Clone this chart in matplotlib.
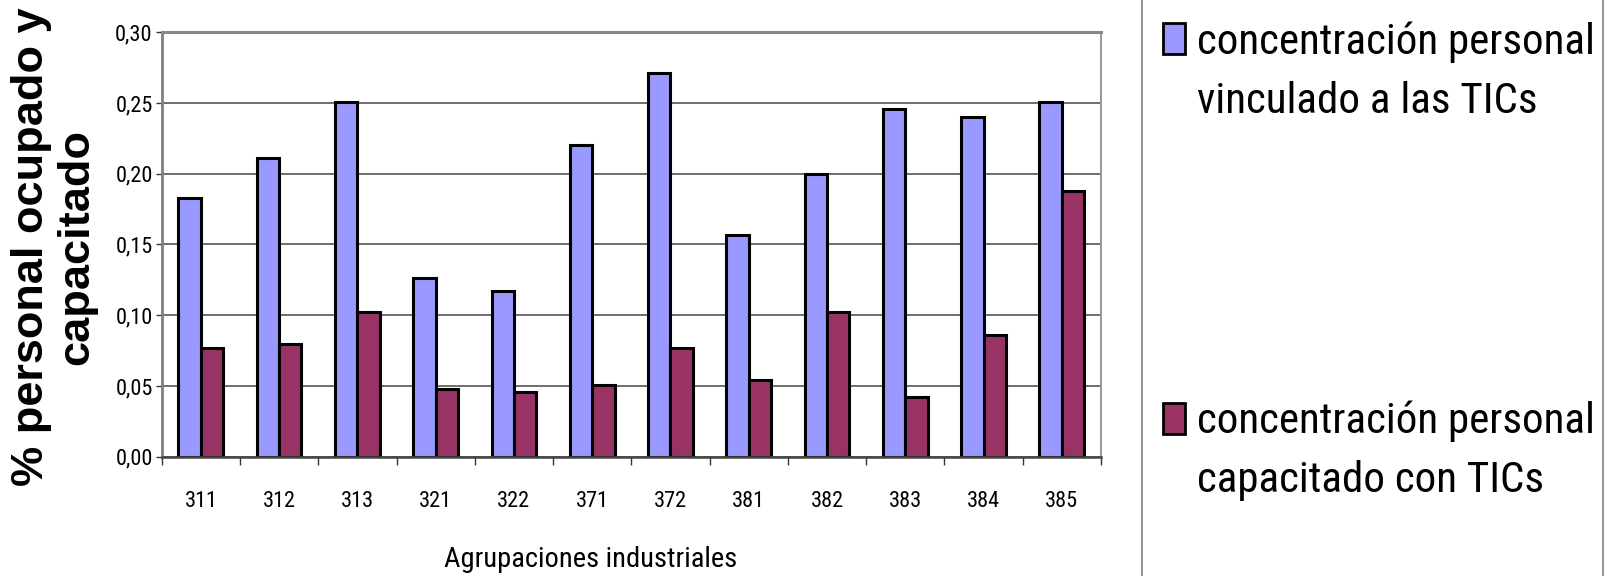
import matplotlib
matplotlib.use("Agg")
import matplotlib.pyplot as plt
from matplotlib import font_manager
from matplotlib.patches import Rectangle
from matplotlib.lines import Line2D
from matplotlib.ticker import FuncFormatter, FixedLocator
import numpy as np

# --- data -------------------------------------------------------------
categories = ["311", "312", "313", "321", "322", "371",
              "372", "381", "382", "383", "384", "385"]
vinculado = [0.183, 0.211, 0.251, 0.126, 0.117, 0.220,
             0.271, 0.157, 0.200, 0.246, 0.240, 0.251]
capacitado = [0.077, 0.080, 0.102, 0.048, 0.046, 0.051,
              0.077, 0.054, 0.102, 0.042, 0.086, 0.188]
series_labels = ["concentración personal\nvinculado a las TICs",
                 "concentración personal\ncapacitado con TICs"]
y_ticks = [0.00, 0.05, 0.10, 0.15, 0.20, 0.25, 0.30]
x_title = "Agrupaciones industriales"
y_title_lines = ["% personal ocupado y", "capacitado"]

# --- style ------------------------------------------------------------
W_PX, H_PX = 1612, 576
colors = ["#9999FF", "#993366"]

installed = {f.name for f in font_manager.fontManager.ttflist}
condensed = [n for n in ("Liberation Sans Narrow", "Roboto Condensed",
                         "DejaVu Sans Condensed") if n in installed]
if condensed:
    narrow = [condensed[0], "Liberation Sans", "DejaVu Sans"]
    k = 1.0
else:
    narrow = ["Liberation Sans", "DejaVu Sans"]
    k = 0.84
bold = ["Liberation Sans", "DejaVu Sans"]
tick_size = 16 * k
xtitle_size = 20.5 * k
legend_size = 31 * k


def fx(px):
    return px / W_PX


def fy(py):
    return 1 - py / H_PX


fig = plt.figure(figsize=(W_PX / 100, H_PX / 100), dpi=100)
fig.patch.set_facecolor("white")

left, right, top, bottom = 161.7, 1101.0, 32.3, 456.7
ax = fig.add_axes([fx(left), fy(bottom), fx(right - left), (bottom - top) / H_PX])

x = np.arange(len(categories))
bw = 1 / 3.5  # gap width of 150 %
for vals, off, col in [(vinculado, -bw / 2, colors[0]), (capacitado, bw / 2, colors[1])]:
    ax.bar(x + off, vals, width=bw, color=col, edgecolor="black",
           linewidth=2.2, zorder=3)

ax.set_xlim(-0.5, len(categories) - 0.5)
ax.set_ylim(0, 0.30)

# gridlines
ax.set_yticks(y_ticks)
ax.yaxis.grid(True, color="#555555", linewidth=1.2, zorder=0)
ax.set_axisbelow(True)
ax.yaxis.set_major_formatter(FuncFormatter(lambda v, p: f"{v:.2f}".replace(".", ",")))
ax.tick_params(axis="y", length=4.5, width=1.0, color="#333333", pad=2,
               labelsize=tick_size, direction="out")
for lab in ax.get_yticklabels():
    lab.set_family(narrow)

# category ticks at group boundaries, labels centred
ax.set_xticks(x)
ax.set_xticklabels(categories)
ax.xaxis.set_minor_locator(FixedLocator(np.arange(-0.5, len(categories), 1.0)))
ax.tick_params(axis="x", which="major", length=0, pad=25, labelsize=tick_size)
ax.tick_params(axis="x", which="minor", length=6, width=1.0, color="#333333",
               direction="out")
for lab in ax.get_xticklabels():
    lab.set_family(narrow)

# frame
ax.spines["top"].set_color("#888888")
ax.spines["top"].set_linewidth(2.2)
ax.spines["right"].set_color("#999999")
ax.spines["right"].set_linewidth(1.4)
ax.spines["left"].set_color("#808080")
ax.spines["left"].set_linewidth(2.0)
ax.spines["bottom"].set_color("#444444")
ax.spines["bottom"].set_linewidth(1.8)
for s in ax.spines.values():
    s.set_zorder(4)

# axis titles
fig.text(fx(590.6), fy(567), x_title, ha="center", va="baseline",
         fontsize=xtitle_size, family=narrow)
for xc, line in zip((32.0, 77.0), y_title_lines):
    fig.text(fx(xc), fy(247), line, ha="center", va="center", rotation=90,
             fontsize=32.5, fontweight="bold", family=bold)

# legend panel
for lx in (1141.7, 1602.7):
    fig.add_artist(Line2D([fx(lx), fx(lx)], [0, 1], transform=fig.transFigure,
                          color="#8a8a8a", linewidth=1.3))

legend_rows = [(22.5, 113.0), (403.0, 492.0)]  # square top, last-line baseline
for (sq_top, base), col, lab in zip(legend_rows, colors, series_labels):
    fig.add_artist(Rectangle((fx(1162.5), fy(sq_top + 31)), 22 / W_PX, 31 / H_PX,
                             transform=fig.transFigure, facecolor=col,
                             edgecolor="black", linewidth=2.0))
    fig.text(fx(1197), fy(base), lab, ha="left", va="baseline",
             fontsize=legend_size, family=narrow, linespacing=1.57)

fig.savefig("out.png", dpi=100, facecolor="white")
